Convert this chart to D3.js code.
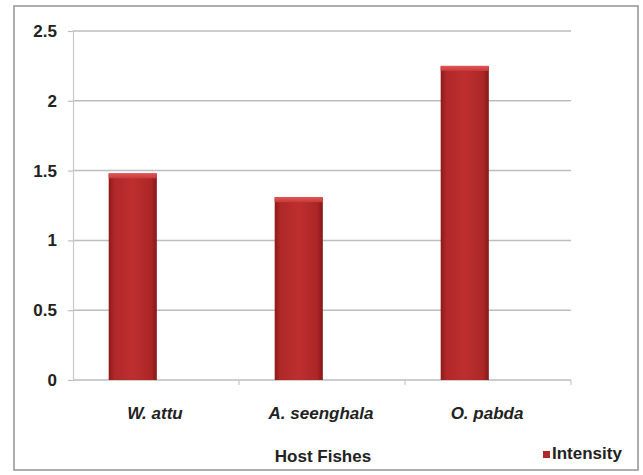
<!DOCTYPE html>
<html>
<head>
<meta charset="utf-8">
<script src="https://cdn.jsdelivr.net/npm/d3@7"></script>
<style>
  html, body { margin: 0; padding: 0; background: #fff; }
  svg { display: block; font-family: "Liberation Sans", Arial, sans-serif; }
</style>
</head>
<body>
<svg id="chart" width="643" height="475"></svg>
<script>
// Parasite intensity per host fish species
const categories = ["W. attu", "A. seenghala", "O. pabda"];
const intensity = [1.48, 1.31, 2.25];
const yTicks = [0, 0.5, 1, 1.5, 2, 2.5];
const yTickLabels = ["0", "0.5", "1", "1.5", "2", "2.5"];
const seriesName = "Intensity";
const xTitle = "Host Fishes";

const svg = d3.select("#chart");
const plot = { left: 73, right: 571, top: 31, bottom: 380 };
const FONT = 17;

// outer chart frame
svg.append("rect")
  .attr("x", 14).attr("y", 6).attr("width", 624).attr("height", 464)
  .attr("fill", "#fff").attr("stroke", "#9a9a9a").attr("stroke-width", 1.6);

const x = d3.scaleBand().domain(categories).range([plot.left, plot.right]);
const y = d3.scaleLinear().domain([0, 2.5]).range([plot.bottom, plot.top]);

// bar shading
const defs = svg.append("defs");
const g1 = defs.append("linearGradient").attr("id", "barFill")
  .attr("x1", "0").attr("x2", "1").attr("y1", "0").attr("y2", "0");
g1.append("stop").attr("offset", "0%").attr("stop-color", "#8e1a1a");
g1.append("stop").attr("offset", "12%").attr("stop-color", "#b02828");
g1.append("stop").attr("offset", "50%").attr("stop-color", "#bd2f2f");
g1.append("stop").attr("offset", "88%").attr("stop-color", "#ad2626");
g1.append("stop").attr("offset", "100%").attr("stop-color", "#861818");
const g2 = defs.append("linearGradient").attr("id", "capFill")
  .attr("x1", "0").attr("x2", "0").attr("y1", "0").attr("y2", "1");
g2.append("stop").attr("offset", "0%").attr("stop-color", "#e05555");
g2.append("stop").attr("offset", "100%").attr("stop-color", "#c83a3a");

// horizontal gridlines
svg.append("g").selectAll("line").data(yTicks).join("line")
  .attr("x1", plot.left).attr("x2", plot.right)
  .attr("y1", d => y(d)).attr("y2", d => y(d))
  .attr("stroke", "#bdbdbd").attr("stroke-width", 1.5);

// value axis
const yAxis = d3.axisLeft(y).tickValues(yTicks)
  .tickFormat((d, i) => yTickLabels[i]).tickSize(5).tickPadding(11);
const ya = svg.append("g").attr("transform", `translate(${plot.left},0)`).call(yAxis);
ya.select(".domain").attr("stroke", "#c8c8c8").attr("stroke-width", 1.2);
ya.selectAll(".tick line").attr("stroke", "#bdbdbd").attr("stroke-width", 1.2);
ya.selectAll(".tick text")
  .attr("font-family", "Liberation Sans, Arial, sans-serif")
  .attr("font-size", FONT).attr("font-weight", "bold").attr("fill", "#222");

// category axis
const xAxis = d3.axisBottom(x).tickSize(0).tickFormat("");
const xa = svg.append("g").attr("transform", `translate(0,${plot.bottom})`).call(xAxis);
xa.select(".domain").remove();
xa.selectAll(".tick line").remove();
svg.append("g").selectAll("line").data(categories).join("line")
  .attr("x1", d => x(d) + x.bandwidth()).attr("x2", d => x(d) + x.bandwidth())
  .attr("y1", plot.bottom).attr("y2", plot.bottom + 5)
  .attr("stroke", "#c8c8c8").attr("stroke-width", 1.2);

svg.append("g").selectAll("text").data(categories).join("text")
  .attr("x", d => x(d) + x.bandwidth() / 2 - 1)
  .attr("y", plot.bottom + 39)
  .attr("text-anchor", "middle")
  .attr("font-size", FONT).attr("font-weight", "bold").attr("font-style", "italic")
  .attr("fill", "#222")
  .text(d => d);

// bars (drawn with depth offset toward the left of each band)
const barOff = 0.215, barW = 0.29;
const bars = svg.append("g").selectAll("g").data(categories).join("g");
bars.append("rect")
  .attr("x", d => x(d) + x.bandwidth() * barOff)
  .attr("y", (d, i) => y(intensity[i]))
  .attr("width", x.bandwidth() * barW)
  .attr("height", (d, i) => y(0) - y(intensity[i]))
  .attr("fill", "url(#barFill)");
bars.append("rect")
  .attr("x", d => x(d) + x.bandwidth() * barOff)
  .attr("y", (d, i) => y(intensity[i]))
  .attr("width", x.bandwidth() * barW)
  .attr("height", 5)
  .attr("fill", "url(#capFill)");

// axis title
svg.append("text")
  .attr("x", 323).attr("y", 462)
  .attr("text-anchor", "middle")
  .attr("font-size", FONT).attr("font-weight", "bold").attr("fill", "#222")
  .text(xTitle);

// legend
const lg = svg.append("g").attr("transform", "translate(543,459)");
lg.append("rect").attr("x", 0).attr("y", -8).attr("width", 7).attr("height", 7)
  .attr("fill", "#b02828");
lg.append("text").attr("x", 9).attr("y", 0)
  .attr("font-size", FONT).attr("font-weight", "bold").attr("fill", "#222")
  .text(seriesName);
</script>
</body>
</html>
